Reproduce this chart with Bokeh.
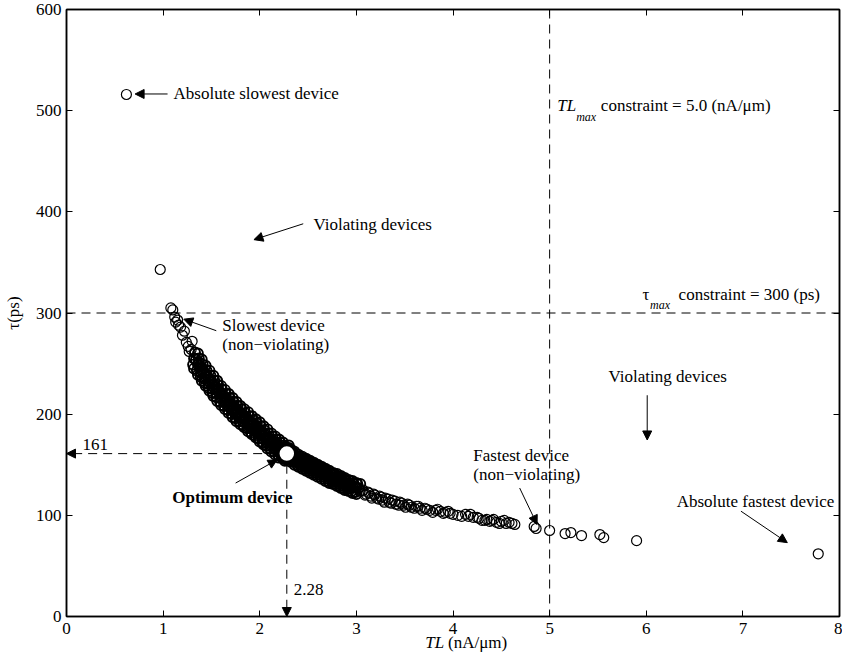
from bokeh.plotting import figure
from bokeh.models import Range1d, LinearAxis, Span, Arrow, NormalHead, Label, FixedTicker
from bokeh.embed import file_html
from bokeh.resources import INLINE

SERIF = "Liberation Serif"

# ---- data ----
x_ticks = [0, 1, 2, 3, 4, 5, 6, 7, 8]
y_ticks = [0, 100, 200, 300, 400, 500, 600]

tl_max = 5.0
tau_max = 300
opt_tl = 2.28
opt_tau = 161

# sparse devices (slow end, fast tail)
tl_sparse = [
    0.62, 0.97,
    1.08, 1.10, 1.12, 1.13, 1.15, 1.16, 1.18, 1.20, 1.22, 1.24, 1.26, 1.27, 1.29, 1.30,
    3.04, 3.07, 3.10, 3.12, 3.15, 3.18, 3.21, 3.24, 3.27, 3.30, 3.34, 3.37, 3.41, 3.45,
    3.49, 3.53, 3.57, 3.62, 3.66, 3.71, 3.76, 3.82, 3.87, 3.92, 3.97, 4.05, 4.13, 4.16,
    4.21, 4.27, 4.30, 4.35, 4.38, 4.40, 4.45, 4.50, 4.55, 4.58, 4.64,
    3.06, 3.09, 3.13, 3.16, 3.19, 3.23, 3.26, 3.29, 3.33, 3.36, 3.40, 3.44,
    3.47, 3.51, 3.55, 3.60, 3.64, 3.68, 3.73, 3.79, 3.84, 3.90, 3.95, 4.00,
    4.09, 4.18, 4.25, 4.33, 4.42, 4.48, 4.53, 4.61,
    4.84, 4.86, 5.00, 5.16, 5.22, 5.33, 5.52, 5.56, 5.90, 7.78,
]
tau_sparse = [
    516, 343,
    305, 303, 296, 291, 293, 288, 286, 278, 282, 271, 267, 262, 264, 272,
    124, 125, 121, 123, 119, 121, 117, 119, 115, 117, 113, 115, 111, 113,
    110, 111, 108, 109, 107, 107, 105, 105, 104, 103, 102, 100, 101, 99,
    98, 97, 95, 96, 94, 95, 93, 94, 92, 93, 91,
    124, 120, 122, 117, 120, 116, 118, 113, 116, 112, 114, 110,
    112, 108, 110, 107, 109, 105, 106, 103, 106, 102, 104, 101,
    99, 101, 98, 95, 96, 92, 95, 92,
    89, 87, 85, 82, 83, 80, 81, 78, 75, 62,
]

# dense band, layer A
tl_band_a = [
    1.33, 1.31, 1.32, 1.37, 1.35, 1.36, 1.41, 1.39, 1.40, 1.45, 1.43, 1.44,
    1.49, 1.47, 1.48, 1.53, 1.51, 1.52, 1.57, 1.55, 1.56, 1.61, 1.59, 1.60,
    1.65, 1.63, 1.64, 1.69, 1.67, 1.68, 1.73, 1.71, 1.72, 1.77, 1.75, 1.76,
    1.81, 1.79, 1.80, 1.85, 1.83, 1.84, 1.89, 1.87, 1.88, 1.93, 1.91, 1.92,
    1.97, 1.95, 1.96, 2.01, 1.99, 2.00, 2.05, 2.03, 2.04, 2.09, 2.07, 2.08,
    2.13, 2.11, 2.12, 2.17, 2.15, 2.16, 2.21, 2.19, 2.20, 2.25, 2.23, 2.24,
    2.33, 2.31, 2.32, 2.37, 2.35, 2.36, 2.41, 2.39, 2.40, 2.45, 2.43, 2.44,
    2.49, 2.47, 2.48, 2.53, 2.51, 2.52, 2.57, 2.55, 2.56, 2.61, 2.59, 2.60,
    2.65, 2.63, 2.64, 2.69, 2.67, 2.68, 2.73, 2.71, 2.72, 2.77, 2.75, 2.76,
    2.81, 2.79, 2.80, 2.85, 2.83, 2.84, 2.89, 2.87, 2.88, 2.93, 2.91, 2.92,
    2.97, 2.95, 2.96, 3.01, 2.99, 3.00,
]
tau_band_a = [
    261, 249, 255, 255, 243, 249, 249, 237, 243, 243, 231, 237,
    238, 226, 232, 233, 221, 227, 229, 217, 223, 224, 212, 218,
    220, 208, 214, 216, 204, 210, 212, 200, 206, 208, 196, 202,
    205, 193, 199, 201, 189, 195, 198, 186, 192, 194, 182, 188,
    191, 179, 185, 188, 176, 182, 184, 172, 178, 181, 169, 175,
    178, 166, 172, 175, 163, 169, 172, 160, 166, 169, 157, 163,
    163, 155, 159, 161, 153, 157, 158, 150, 154, 156, 148, 152,
    154, 146, 150, 152, 144, 148, 150, 142, 146, 148, 140, 144,
    146, 138, 142, 144, 136, 140, 142, 134, 138, 141, 133, 137,
    139, 131, 135, 137, 129, 133, 135, 127, 131, 134, 126, 130,
    132, 124, 128, 131, 123, 127,
]

# dense band, layer B
tl_band_b = [
    1.36, 1.34, 1.32, 1.40, 1.38, 1.36, 1.44, 1.42, 1.40, 1.48, 1.46, 1.44,
    1.52, 1.50, 1.48, 1.56, 1.54, 1.52, 1.60, 1.58, 1.56, 1.64, 1.62, 1.60,
    1.68, 1.66, 1.64, 1.72, 1.70, 1.68, 1.76, 1.74, 1.72, 1.80, 1.78, 1.76,
    1.84, 1.82, 1.80, 1.88, 1.86, 1.84, 1.92, 1.90, 1.88, 1.96, 1.94, 1.92,
    2.00, 1.98, 1.96, 2.04, 2.02, 2.00, 2.08, 2.06, 2.04, 2.12, 2.10, 2.08,
    2.16, 2.14, 2.12, 2.20, 2.18, 2.16, 2.24, 2.22, 2.20, 2.30, 2.28, 2.26,
    2.36, 2.34, 2.32, 2.40, 2.38, 2.36, 2.44, 2.42, 2.40, 2.48, 2.46, 2.44,
    2.52, 2.50, 2.48, 2.56, 2.54, 2.52, 2.60, 2.58, 2.56, 2.64, 2.62, 2.60,
    2.68, 2.66, 2.64, 2.72, 2.70, 2.68, 2.76, 2.74, 2.72, 2.80, 2.78, 2.76,
    2.84, 2.82, 2.80, 2.88, 2.86, 2.84, 2.92, 2.90, 2.88, 2.96, 2.94, 2.92,
    3.00, 2.98, 2.96, 3.04, 3.02, 3.00,
]
tau_band_b = [
    260, 254, 245, 254, 248, 239, 248, 242, 233, 243, 237, 228,
    238, 232, 223, 233, 227, 218, 228, 222, 213, 224, 218, 209,
    220, 214, 205, 216, 210, 201, 212, 206, 197, 208, 202, 193,
    205, 199, 190, 202, 196, 187, 198, 192, 183, 195, 189, 180,
    192, 186, 177, 188, 182, 173, 185, 179, 170, 181, 175, 166,
    178, 172, 163, 175, 169, 160, 172, 166, 157, 169, 163, 154,
    163, 159, 153, 160, 156, 150, 158, 154, 148, 156, 152, 146,
    154, 150, 144, 152, 148, 142, 150, 146, 140, 148, 144, 138,
    146, 142, 136, 144, 140, 134, 142, 138, 132, 141, 137, 131,
    139, 135, 129, 137, 133, 127, 135, 131, 125, 134, 130, 124,
    132, 128, 122, 131, 127, 121,
]

# dense band, layer C
tl_band_c = [
    1.37, 1.39, 1.41, 1.43, 1.45, 1.47, 1.49, 1.51, 1.53, 1.55, 1.57, 1.59,
    1.61, 1.63, 1.65, 1.67, 1.69, 1.71, 1.73, 1.75, 1.77, 1.79, 1.81, 1.83,
    1.85, 1.87, 1.89, 1.91, 1.93, 1.95, 1.97, 1.99, 2.01, 2.03, 2.05, 2.07,
    2.09, 2.11, 2.13, 2.15, 2.17, 2.19, 2.21, 2.23,
    2.33, 2.35, 2.37, 2.39, 2.41, 2.43, 2.45, 2.47, 2.49, 2.51, 2.53, 2.55,
    2.57, 2.59, 2.61, 2.63, 2.65, 2.67, 2.69, 2.71, 2.73, 2.75, 2.77, 2.79,
    2.81, 2.83, 2.85, 2.87, 2.89, 2.91,
]
tau_band_c = [
    251, 241, 245, 235, 239, 230, 234, 225, 229, 221, 225, 216,
    220, 212, 216, 208, 212, 204, 208, 200, 204, 197, 201, 193,
    197, 190, 194, 186, 190, 183, 187, 180, 184, 176, 180, 173,
    177, 170, 174, 167, 171, 164, 168, 161,
    162, 154, 159, 152, 157, 150, 155, 148, 153, 146, 151, 144,
    149, 142, 147, 140, 145, 138, 143, 136, 141, 135, 140, 133,
    138, 131, 136, 129, 134, 128,
]

tl_band = tl_band_a + tl_band_b + tl_band_c
tau_band = tau_band_a + tau_band_b + tau_band_c
assert len(tl_sparse) == len(tau_sparse) and len(tl_band) == len(tau_band)

# x-axis title pieces (text and where each piece is centred, in TL units)
xlabel_var, xlabel_var_at = "TL", 3.81
xlabel_unit, xlabel_unit_at = "(nA/\u03bcm)", 4.255

# ---- figure ----
p = figure(width=842, height=658, output_backend="svg", toolbar_location=None,
           x_range=Range1d(0, 8), y_range=Range1d(0, 600),
           min_border_left=66, min_border_right=3, min_border_top=9, min_border_bottom=42,
           background_fill_color="white", border_fill_color="white")
p.grid.visible = False
p.outline_line_color = "black"
p.outline_line_width = 1.5


def style_axis(ax, ticks, labels=True):
    ax.ticker = FixedTicker(ticks=ticks)
    ax.major_tick_in = 6
    ax.major_tick_out = 0
    ax.minor_tick_in = 0
    ax.minor_tick_out = 0
    ax.axis_line_color = "black"
    ax.axis_line_width = 1.5
    ax.major_tick_line_color = "black"
    ax.major_tick_line_width = 1
    ax.major_label_text_font = SERIF
    ax.major_label_text_font_size = "17px"
    ax.major_label_text_color = "black"
    if labels:
        ax.major_label_standoff = 5
    else:
        ax.major_label_overrides = {t: "" for t in ticks}
        ax.major_label_standoff = 0


style_axis(p.xaxis[0], x_ticks)
p.xaxis[0].major_label_standoff = 6
style_axis(p.yaxis[0], y_ticks)
p.yaxis[0].axis_label = "τ(ps)"
p.yaxis[0].axis_label_text_font = SERIF
p.yaxis[0].axis_label_text_font_size = "17px"
p.yaxis[0].axis_label_text_font_style = "normal"
p.yaxis[0].axis_label_text_color = "black"
p.yaxis[0].axis_label_standoff = 10

top_ax = LinearAxis()
style_axis(top_ax, x_ticks, labels=False)
p.add_layout(top_ax, "above")
right_ax = LinearAxis()
style_axis(right_ax, y_ticks, labels=False)
p.add_layout(right_ax, "right")


def title_axis(at, text, style, standoff):
    ax = LinearAxis(ticker=FixedTicker(ticks=[at]),
                    major_label_overrides={at: text})
    ax.axis_line_color = None
    ax.major_tick_line_color = None
    ax.minor_tick_line_color = None
    ax.major_tick_in = 0
    ax.major_tick_out = 0
    ax.minor_tick_in = 0
    ax.minor_tick_out = 0
    ax.major_label_text_font = SERIF
    ax.major_label_text_font_size = "17px"
    ax.major_label_text_font_style = style
    ax.major_label_text_color = "black"
    ax.major_label_standoff = standoff
    p.add_layout(ax, "below")


# x-axis title: italic variable name and upright unit on one line
title_axis(xlabel_var_at, xlabel_var, "italic", -4)
title_axis(xlabel_unit_at, xlabel_unit, "normal", -22)

# constraint lines
p.add_layout(Span(location=tl_max, dimension="height", line_color="black",
                  line_width=1, line_dash="9 6"))
p.add_layout(Span(location=tau_max, dimension="width", line_color="black",
                  line_width=1, line_dash="9 6"))

# devices
p.scatter(tl_sparse, tau_sparse, marker="circle", size=10, fill_alpha=0,
          line_color="black", line_width=1.2)
p.scatter(tl_band, tau_band, marker="circle", size=10, fill_alpha=0,
          line_color="black", line_width=1.9)


def arrow(x0, y0, x1, y1, dash="solid"):
    p.add_layout(Arrow(x_start=x0, y_start=y0, x_end=x1, y_end=y1,
                       line_color="black", line_width=1, line_dash=dash,
                       end=NormalHead(size=9, fill_color="black", line_color="black",
                                      line_width=1)))


# optimum guides
arrow(opt_tl - 0.1, opt_tau, 0.0, opt_tau, dash="9 6")
arrow(opt_tl, opt_tau - 11, opt_tl, 0.0, dash="9 6")

p.scatter([opt_tl], [opt_tau], marker="circle", size=19, fill_color="white",
          line_color="black", line_width=4.5)


def label(x, y, text, size="17px", style="normal"):
    p.add_layout(Label(x=x, y=y, text=text,
                       text_font=SERIF, text_font_size=size,
                       text_font_style=style, text_baseline="middle",
                       text_align="left", text_color="black"))


# annotations
label(1.108, 516.5, "Absolute slowest device")
arrow(1.046, 516.5, 0.71, 516.5)

label(2.557, 387, "Violating devices")
arrow(2.45, 388.2, 1.94, 372.5)

label(1.612, 287.4, "Slowest device")
label(1.612, 268.5, "(non\u2212violating)")
arrow(1.55, 282.5, 1.214, 293.9)

label(5.61, 237.4, "Violating devices")
arrow(6.01, 218.7, 6.01, 174.5)

label(4.21, 159.1, "Fastest device")
label(4.21, 140.1, "(non\u2212violating)")
arrow(4.69, 127, 4.87, 91)

label(6.315, 113.9, "Absolute fastest device")
arrow(6.98, 104.1, 7.46, 73)

label(1.094, 117.2, "Optimum device", style="bold")
arrow(1.75, 131.9, 2.18, 154.9)

label(0.166, 169.6, str(opt_tau))
label(2.353, 26.2, "%.2f" % opt_tl)

# TL_max constraint text
label(5.08, 504.8, "TL", style="italic")
label(5.275, 493.6, "max", size="12px", style="italic")
label(5.53, 504.8, "constraint = %.1f (nA/\u03bcm)" % tl_max)

# tau_max constraint text
label(5.96, 318.2, "\u03c4")
label(6.04, 308.4, "max", size="12px", style="italic")
label(6.335, 318.2, "constraint = %d (ps)" % tau_max)

open("out.html", "w").write(file_html(p, INLINE))
